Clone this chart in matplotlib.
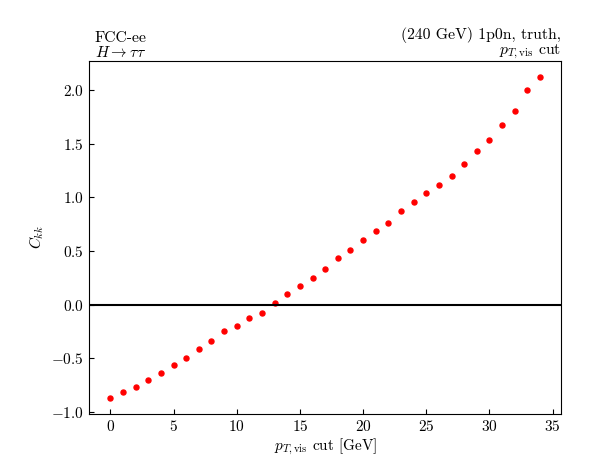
import numpy as np
import matplotlib
matplotlib.use("Agg")
import matplotlib.pyplot as plt

plt.rcParams['font.family'] = 'serif'
plt.rcParams['font.serif'] = ['cmr10', 'DejaVu Serif']
plt.rcParams['mathtext.fontset'] = 'cm'
plt.rcParams['axes.formatter.use_mathtext'] = True

# pT,vis cut values [GeV] and C_kk
pt_cut = np.arange(0, 35)
ckk = [-0.869, -0.816, -0.766, -0.704, -0.638, -0.561, -0.495, -0.417, -0.339, -0.243,
       -0.199, -0.128, -0.075, 0.012, 0.096, 0.171, 0.246, 0.336, 0.436, 0.514,
       0.601, 0.689, 0.766, 0.872, 0.960, 1.040, 1.115, 1.200, 1.310, 1.430,
       1.540, 1.673, 1.810, 2.000, 2.124]

fig = plt.figure(figsize=(6.09, 4.61), dpi=100)
ax = fig.add_axes([0.146, 0.102, 0.776, 0.766])

ax.plot(pt_cut, ckk, 'o', color='red', ms=3.6, ls='none')
ax.axhline(0, color='black', lw=1.5)

ax.set_xlabel(r'$p_{T,\mathrm{vis}}$ cut [GeV]', fontsize=11, labelpad=2)
ax.set_ylabel(r'$C_{kk}$', fontsize=11)
ax.tick_params(direction='in', labelsize=11)
ax.set_yticks([-1.0, -0.5, 0.0, 0.5, 1.0, 1.5, 2.0])

ax.text(0.012, 1.003, 'FCC-ee\n' + r'$H\rightarrow\tau\tau$', transform=ax.transAxes,
        fontsize=11.3, linespacing=0.95, ha='left', va='bottom')
ax.text(1.0, 1.0, '(240 GeV) 1p0n, truth,\n' + r'$p_{T,\mathrm{vis}}$ cut',
        transform=ax.transAxes, fontsize=11.3, linespacing=0.95,
        ha='right', va='bottom', multialignment='right')

fig.savefig('out.png', dpi=100)
